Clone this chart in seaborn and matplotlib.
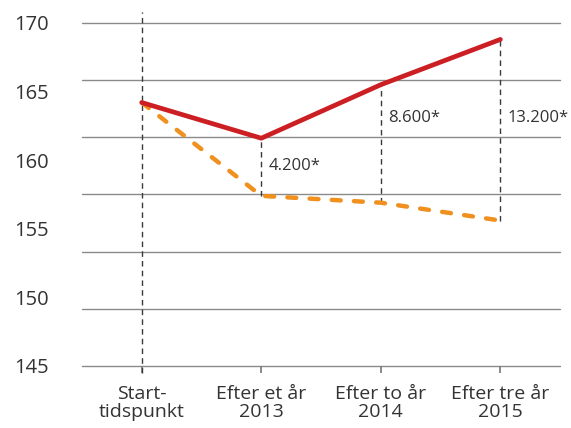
import pandas as pd
import matplotlib.pyplot as plt
import numpy as np
import seaborn as sns

# Data
categories = ['Start-\ntidspunkt', 'Efter et år\n2013', 'Efter to år\n2014', 'Efter tre år\n2015']
red_values = [164.2, 161.6, 165.5, 168.8]
orange_values = [164.2, 157.4, 156.9, 155.6]
gap_labels = ['4.200*', '8.600*', '13.200*']
gap_label_y = [159.6, 163.1, 163.1]
y_ticks = [145, 150, 155, 160, 165, 170]

df = pd.DataFrame({
    'x': list(range(len(categories))) * 2,
    'value': red_values + orange_values,
    'series': ['red'] * len(categories) + ['orange'] * len(categories),
})

sns.set_style('white')
plt.rcParams['font.family'] = ['Open Sans', 'DejaVu Sans']

fig = plt.figure(figsize=(5.71, 4.28), dpi=100)
ax = fig.add_axes([0.1436, 0.1449, 0.8374, 0.8271])

# gridlines (7 evenly spaced lines between 145 and 170)
for gy in np.linspace(145, 170, 7):
    ax.axhline(gy, color='#8a8a8a', lw=1.0, zorder=0, clip_on=False)

# small tick marks under the bottom line
ax.vlines(range(len(categories)), -0.02, 0, transform=ax.get_xaxis_transform(),
          color='#777777', lw=1.2, clip_on=False, zorder=1)

# dashed vertical reference lines
ax.axvline(0, ymin=-0.02, ymax=1, color='#3a3a3a', lw=1.0, ls=(0, (4, 3)),
           zorder=1, clip_on=False)
ax.vlines(range(1, len(categories)), orange_values[1:], red_values[1:],
          color='#3a3a3a', lw=1.0, ls=(0, (4, 3)), zorder=1)

sns.lineplot(data=df[df['series'] == 'orange'], x='x', y='value', ax=ax,
             color='#f0901e', lw=3.2, zorder=3, legend=False)
ax.lines[-1].set_linestyle((0, (2, 3)))
ax.lines[-1].set_dash_capstyle('round')
sns.lineplot(data=df[df['series'] == 'red'], x='x', y='value', ax=ax,
             color='#cc1f24', lw=3.4, zorder=4, legend=False)
ax.lines[-1].set_solid_capstyle('round')

for i, (lab, ly) in enumerate(zip(gap_labels, gap_label_y)):
    ax.annotate(lab, xy=(i + 1, ly), xytext=(5, 0), textcoords='offset points',
                ha='left', va='center', fontsize=12, color='#333333')

sns.despine(ax=ax, left=True, bottom=True)
ax.set_xlim(-0.5, 3.5)
ax.set_ylim(145, 170.8)
ax.set_yticks(y_ticks)
ax.set_yticklabels([str(t) for t in y_ticks], fontsize=14.5, color='#333333')
ax.set_xticks(range(len(categories)))
ax.set_xticklabels(categories, fontsize=14, color='#333333', linespacing=1.0)
ax.tick_params(axis='y', length=0, pad=24)
ax.tick_params(axis='x', length=0, pad=14)
ax.set_xlabel('')
ax.set_ylabel('')

plt.savefig('out.png', dpi=100)
